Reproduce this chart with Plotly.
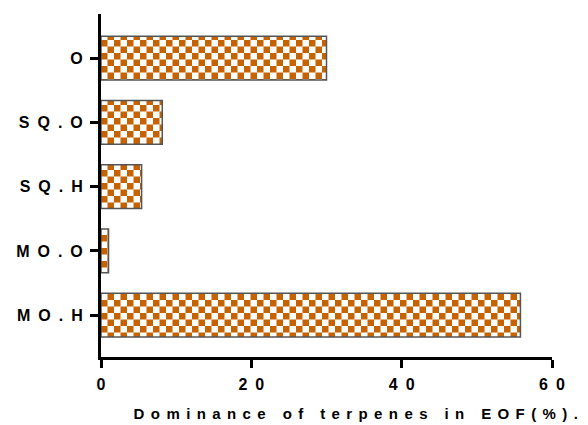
import plotly.graph_objects as go

categories = ["MO.H", "MO.O", "SQ.H", "SQ.O", "O"]
values = [55.8, 1.0, 5.4, 8.15, 30.0]
x_ticks = [0, 20, 40, 60]
x_title = "Dominance of terpenes in EOF(%)."

ORANGE = "#C66200"
FONT = "Arial, Liberation Sans, sans-serif"

fig = go.Figure(
    go.Bar(
        x=values,
        y=categories,
        orientation="h",
        width=0.68,
        marker=dict(
            color="white",
            line=dict(color="#555555", width=1.5),
            pattern=dict(shape=".", fgcolor=ORANGE, bgcolor="white", size=13, solidity=0.5, fillmode="overlay"),
        ),
        hoverinfo="x+y",
    )
)

fig.update_layout(
    width=588,
    height=425,
    margin=dict(l=101, r=36, t=14, b=68),
    paper_bgcolor="white",
    plot_bgcolor="white",
    showlegend=False,
    font=dict(family=FONT, color="black"),
    xaxis=dict(
        range=[0, 60],
        tickvals=x_ticks,
        ticktext=[str(v) for v in x_ticks],
        showgrid=False,
        zeroline=False,
        showline=True,
        linecolor="black",
        linewidth=3,
        ticks="outside",
        ticklen=8,
        tickwidth=3,
        tickcolor="black",
        ticklabelstandoff=3,
        tickfont=dict(family=FONT, size=16, color="black", weight="bold"),
    ),
    yaxis=dict(
        type="category",
        categoryorder="array",
        categoryarray=categories,
        range=[-0.65, 4.685],
        showgrid=False,
        zeroline=False,
        showline=True,
        linecolor="black",
        linewidth=3,
        ticks="outside",
        ticklen=8,
        tickwidth=3,
        tickcolor="black",
        tickfont=dict(family=FONT, size=16, color="black", weight="bold"),
    ),
    annotations=[
        dict(
            text=x_title,
            xref="paper",
            yref="paper",
            x=0.571,
            y=-0.166,
            xanchor="center",
            yanchor="middle",
            showarrow=False,
            font=dict(family=FONT, size=15, color="black", weight="bold"),
        )
    ],
)

post = """
var gd = document.getElementById('{plot_id}');
var ns = 'http://www.w3.org/2000/svg';
gd.querySelectorAll('pattern').forEach(function(p){
  var s = parseFloat(p.getAttribute('width')) || 13;
  var h = s / 2;
  while (p.firstChild) p.removeChild(p.firstChild);
  function mk(x, y, w, hh, f){
    var r = document.createElementNS(ns, 'rect');
    r.setAttribute('x', x); r.setAttribute('y', y);
    r.setAttribute('width', w); r.setAttribute('height', hh);
    r.setAttribute('fill', f);
    p.appendChild(r);
  }
  mk(0, 0, s, s, '#ffffff');
  mk(0, 0, h, h, '%s');
  mk(h, h, h, h, '%s');
});
gd.querySelectorAll('.ytick text').forEach(function(t){ t.style.letterSpacing = '8px'; t.setAttribute('dx', '4'); });
gd.querySelectorAll('.xtick text').forEach(function(t){ t.style.letterSpacing = '8px'; t.setAttribute('dx', '4'); });
gd.querySelectorAll('.annotation-text').forEach(function(t){ t.style.letterSpacing = '6.4px'; });
""" % (ORANGE, ORANGE)

fig.write_html("out.html", post_script=post)
